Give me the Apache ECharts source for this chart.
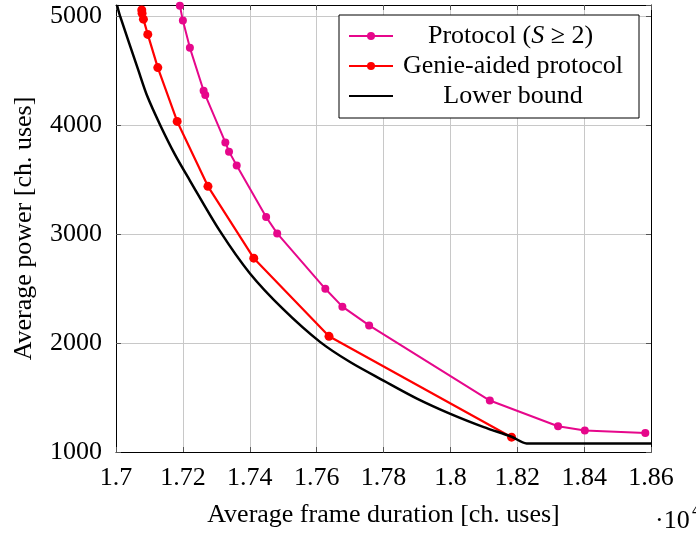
<!DOCTYPE html>
<html>
<head>
<meta charset="utf-8">
<script src="https://cdn.jsdelivr.net/npm/echarts@6/dist/echarts.min.js"></script>
<style>
  html, body { margin: 0; padding: 0; background: #fff; }
  #chart { width: 696px; height: 533px; }
</style>
</head>
<body>
<div id="chart"></div>
<script>
// frame duration given in units of 10^4 channel uses
const protocolX = [1.7191, 1.7200, 1.7221, 1.7262, 1.7267, 1.7327, 1.7338, 1.7361, 1.7449, 1.7482, 1.7626, 1.7677, 1.7757, 1.8118, 1.8322, 1.8402, 1.8583];
const protocolY = [5094, 4957, 4707, 4313, 4274, 3839, 3755, 3628, 3156, 3005, 2497, 2333, 2161, 1472, 1236, 1197, 1175];

const genieX = [1.7077, 1.7078, 1.7082, 1.7095, 1.7125, 1.7183, 1.7275, 1.7412, 1.7637, 1.8183];
const genieY = [5054, 5024, 4970, 4830, 4526, 4032, 3437, 2778, 2061, 1136];

const boundX = [1.7003, 1.7012, 1.7067, 1.7094, 1.7132, 1.7176, 1.7221, 1.7310, 1.7400, 1.7500, 1.7610, 1.7700, 1.7800, 1.7900, 1.8000, 1.8100, 1.8183, 1.8228, 1.8300, 1.8600];
const boundY = [5100, 5000, 4500, 4260, 4000, 3730, 3490, 3030, 2640, 2310, 2010, 1825, 1655, 1490, 1350, 1228, 1140, 1079, 1079, 1079];

const xTicks = [1.7, 1.72, 1.74, 1.76, 1.78, 1.8, 1.82, 1.84, 1.86];
const yTicks = [1000, 2000, 3000, 4000, 5000];

const zip = (xs, ys) => xs.map((x, i) => [x, ys[i]]);

const FONT = 'Liberation Serif';
const gridColor = '#c8c8c8';

const chart = echarts.init(document.getElementById('chart'));

const baseX = {
  type: 'value',
  min: xTicks[0],
  max: xTicks[xTicks.length - 1],
  interval: 0.02,
  axisLine: { show: true, lineStyle: { color: '#000', width: 1 } },
  axisTick: { show: true, inside: true, length: 5, lineStyle: { color: '#555' } },
  splitLine: { show: false }
};
const baseY = {
  type: 'value',
  min: yTicks[0],
  max: 5100,
  interval: 1000,
  axisLine: { show: true, lineStyle: { color: '#000', width: 1 } },
  axisTick: { show: true, inside: true, length: 5, lineStyle: { color: '#555' } },
  splitLine: { show: false }
};

const option = {
  animation: false,
  backgroundColor: '#fff',
  grid: { left: 116, right: 45, top: 5, bottom: 76 },
  xAxis: [
    Object.assign({}, baseX, {
      position: 'bottom',
      name: 'Average frame duration [ch. uses]',
      nameLocation: 'middle',
      nameGap: 50,
      nameTextStyle: { fontFamily: FONT, fontSize: 26, color: '#000' },
      axisLabel: {
        margin: 13,
        fontFamily: FONT, fontSize: 26, color: '#000',
        formatter: v => String(parseFloat(v.toFixed(2)))
      },
      splitLine: { show: true, lineStyle: { color: gridColor, width: 1 } }
    }),
    Object.assign({}, baseX, { position: 'top', axisLabel: { show: false } })
  ],
  yAxis: [
    Object.assign({}, baseY, {
      position: 'left',
      name: 'Average power [ch. uses]',
      nameLocation: 'middle',
      nameGap: 79,
      nameTextStyle: { fontFamily: FONT, fontSize: 26, color: '#000' },
      axisLabel: {
        margin: 14,
        showMaxLabel: false,
        fontFamily: FONT, fontSize: 26, color: '#000',
        formatter: v => String(v)
      },
      splitLine: { show: true, lineStyle: { color: gridColor, width: 1 } }
    }),
    Object.assign({}, baseY, { position: 'right', axisLabel: { show: false } })
  ],
  legend: {
    orient: 'vertical',
    left: 339,
    top: 15,
    padding: [8, 11, 9, 9],
    itemGap: 4,
    itemWidth: 44,
    itemHeight: 10,
    backgroundColor: '#fff',
    borderColor: '#000',
    borderWidth: 1,
    borderRadius: 0,
    data: [
      'Protocol',
      'Genie-aided protocol',
      { name: 'Lower bound', itemStyle: { opacity: 0 } }
    ],
    formatter: name => {
      if (name === 'Protocol') return '{a|Protocol (}{s|S}{b| ≥ 2)}{e|}';
      return '{c|' + name + '}';
    },
    textStyle: {
      fontFamily: FONT, fontSize: 26, color: '#000',
      rich: {
        a: { fontFamily: FONT, fontSize: 26, lineHeight: 28, padding: [0, 0, 0, 30] },
        s: { fontFamily: FONT, fontSize: 26, lineHeight: 28, fontStyle: 'italic' },
        b: { fontFamily: FONT, fontSize: 26, lineHeight: 28 },
        e: { width: 30, lineHeight: 28 },
        c: { fontFamily: FONT, fontSize: 26, lineHeight: 28, width: 230, align: 'center' }
      }
    }
  },
  graphic: [
    { type: 'text', left: 655, top: 508, style: { text: '·10', fontFamily: FONT, fontSize: 26, fill: '#000' } },
    { type: 'text', left: 692, top: 502, style: { text: '4', fontFamily: FONT, fontSize: 18, fill: '#000' } }
  ],
  series: [
    {
      name: 'Protocol',
      type: 'line',
      data: zip(protocolX, protocolY),
      symbol: 'circle',
      symbolSize: 8,
      color: '#e6078b',
      lineStyle: { width: 2 },
      z: 3
    },
    {
      name: 'Genie-aided protocol',
      type: 'line',
      data: zip(genieX, genieY),
      symbol: 'circle',
      symbolSize: 9,
      color: '#ff0000',
      lineStyle: { width: 2.2 },
      z: 4
    },
    {
      name: 'Lower bound',
      type: 'line',
      data: zip(boundX, boundY),
      symbol: 'none',
      smooth: 0.3,
      color: '#000',
      lineStyle: { width: 2.5 },
      z: 5
    }
  ]
};

chart.setOption(option);
</script>
</body>
</html>
